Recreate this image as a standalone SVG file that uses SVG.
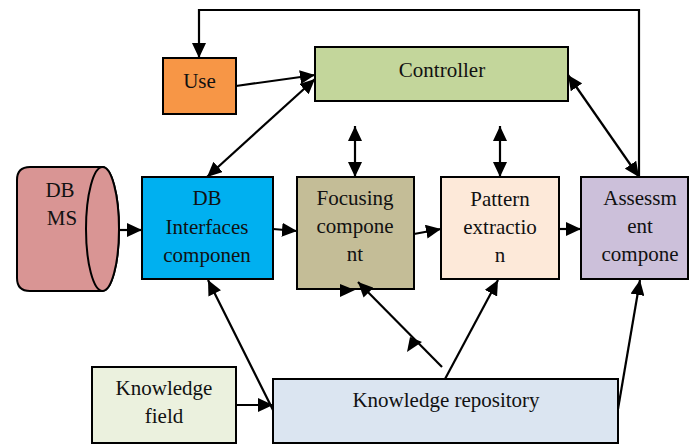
<svg xmlns="http://www.w3.org/2000/svg" width="689" height="445" viewBox="0 0 689 445">
  <style>
    .box { stroke: #000; stroke-width: 2; }
    .lbl { font-family: "Liberation Serif", "Times New Roman", serif; font-size: 21px; fill: #111; text-anchor: middle; }
    .lbl-l { font-family: "Liberation Serif", "Times New Roman", serif; font-size: 21px; fill: #111; }
    .wire { fill: none; stroke: #000; stroke-width: 2.2; }
  </style>
  <defs>
    <marker id="head" viewBox="0 0 15 14" refX="15" refY="7" markerWidth="15" markerHeight="14" markerUnits="userSpaceOnUse" orient="auto-start-reverse">
      <path d="M0,0 L15,7 L0,14 z" fill="#000"/>
    </marker>
  </defs>
  <rect width="689" height="445" fill="#fff"/>

  <!-- nodes -->
  <g id="use">
    <rect class="box" x="163" y="58" width="73" height="56" fill="#F79646"/>
    <text class="lbl" x="199.5" y="88">Use</text>
  </g>
  <g id="controller">
    <rect class="box" x="315" y="47" width="253" height="54" fill="#C3D69B"/>
    <text class="lbl" x="442" y="77">Controller</text>
  </g>
  <g id="dbms">
    <path class="box" d="M30,167 H102.5 A16.5,62 0 0 1 102.5,291 H30 Q17,291 17,278 V180 Q17,167 30,167 Z" fill="#D99594"/>
    <ellipse class="box" cx="102.5" cy="229" rx="16.5" ry="62" fill="#D99594"/>
    <text class="lbl" x="60" y="197">DB</text>
    <text class="lbl" x="62" y="225">MS</text>
  </g>
  <g id="db-interfaces">
    <rect class="box" x="142" y="177" width="131" height="102" fill="#00B0F0"/>
    <text class="lbl" x="207" y="205">DB</text>
    <text class="lbl" x="207" y="234">Interfaces</text>
    <text class="lbl" x="207" y="262">componen</text>
  </g>
  <g id="focusing">
    <rect class="box" x="297" y="177" width="117" height="112" fill="#C4BD97"/>
    <text class="lbl" x="355" y="205">Focusing</text>
    <text class="lbl" x="355" y="233">compone</text>
    <text class="lbl" x="355" y="261">nt</text>
  </g>
  <g id="pattern">
    <rect class="box" x="441" y="177" width="118" height="102" fill="#FDE9D9"/>
    <text class="lbl" x="500" y="206">Pattern</text>
    <text class="lbl" x="500" y="234">extractio</text>
    <text class="lbl" x="500" y="262">n</text>
  </g>
  <g id="assessment">
    <rect class="box" x="581" y="177" width="107" height="102" fill="#CCC0DA"/>
    <text class="lbl" x="640" y="205">Assessm</text>
    <text class="lbl" x="640" y="233">ent</text>
    <text class="lbl" x="640" y="261">compone</text>
  </g>
  <g id="knowledge-field">
    <rect class="box" x="92" y="367" width="144" height="76" fill="#EBF1DE"/>
    <text class="lbl" x="164" y="395">Knowledge</text>
    <text class="lbl" x="164" y="423">field</text>
  </g>
  <g id="knowledge-repository">
    <rect class="box" x="273" y="379" width="345" height="64" fill="#DBE5F1"/>
    <text class="lbl" x="446" y="407">Knowledge repository</text>
  </g>

  <!-- connectors -->
  <g id="connectors">
    <!-- feedback loop from assessment back to user -->
    <polyline class="wire" points="639,177 639,10 199,10 199,58" marker-end="url(#head)"/>
    <line class="wire" x1="236" y1="86" x2="315" y2="75" marker-end="url(#head)"/>
    <line class="wire" x1="315" y1="79" x2="207" y2="177" marker-start="url(#head)" marker-end="url(#head)"/>
    <line class="wire" x1="568" y1="75" x2="639" y2="177" marker-start="url(#head)" marker-end="url(#head)"/>
    <line class="wire" x1="355" y1="126" x2="355" y2="177" marker-start="url(#head)" marker-end="url(#head)"/>
    <line class="wire" x1="500" y1="126" x2="500" y2="177" marker-start="url(#head)" marker-end="url(#head)"/>
    <!-- main pipeline -->
    <line class="wire" x1="119" y1="230" x2="142" y2="230" marker-end="url(#head)"/>
    <line class="wire" x1="273" y1="229" x2="297" y2="231" marker-end="url(#head)"/>
    <line class="wire" x1="414" y1="234" x2="441" y2="229" marker-end="url(#head)"/>
    <line class="wire" x1="559" y1="229" x2="581" y2="229" marker-end="url(#head)"/>
    <!-- knowledge links -->
    <line class="wire" x1="236" y1="405" x2="273" y2="405" marker-end="url(#head)"/>
    <line class="wire" x1="273" y1="410" x2="208" y2="280" marker-end="url(#head)"/>
    <line class="wire" x1="442" y1="367" x2="358" y2="282" marker-end="url(#head)"/>
    <path d="M407,352 L410,337 L422,342 Z" fill="#000"/>
    <path d="M340,284 L355,290 L340,297 Z" fill="#000"/>
    <line class="wire" x1="445" y1="379" x2="498" y2="280" marker-end="url(#head)"/>
    <line class="wire" x1="618" y1="409" x2="640" y2="280" marker-end="url(#head)"/>
  </g>
</svg>
